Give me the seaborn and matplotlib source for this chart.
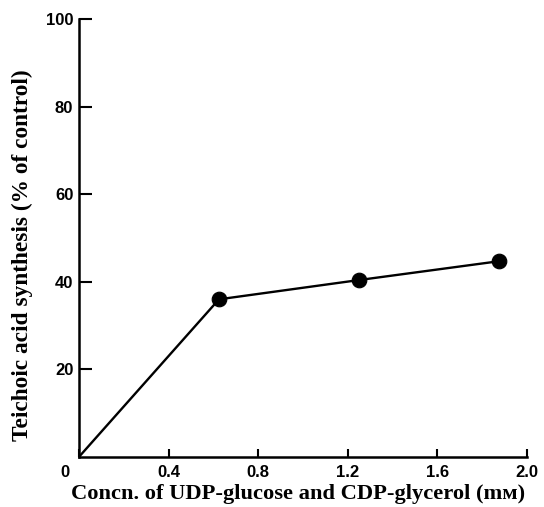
import matplotlib
matplotlib.use("Agg")
import matplotlib.pyplot as plt
import matplotlib.transforms as mtransforms
import seaborn as sns
import pandas as pd

# Nucleotide concentration (mM) vs teichoic acid synthesis (% of control)
conc = [0.0, 0.625, 1.25, 1.875]
synthesis = [0.0, 36.0, 40.4, 44.7]
x_ticks = [0, 0.4, 0.8, 1.2, 1.6, 2.0]
x_tick_labels = ["0", "0.4", "0.8", "1.2", "1.6", "2.0"]
y_ticks = [20, 40, 60, 80, 100]
y_tick_labels = ["20", "40", "60", "80", "100"]

df = pd.DataFrame({"conc": conc, "synthesis": synthesis})

sns.set_style("ticks", {"axes.edgecolor": "black", "text.color": "black",
                        "xtick.color": "black", "ytick.color": "black",
                        "axes.labelcolor": "black"})
plt.rcParams["font.family"] = ["Liberation Sans", "DejaVu Sans"]

fig = plt.figure(figsize=(5.44, 5.07), dpi=100)
ax = fig.add_axes([0.145, 0.0986, 0.824, 0.864])

sns.lineplot(data=df, x="conc", y="synthesis", ax=ax, color="black",
             linewidth=1.7, estimator=None, sort=False)
sns.scatterplot(data=df.iloc[1:], x="conc", y="synthesis", ax=ax,
                color="black", s=110, edgecolor="black", zorder=3)

ax.set_xlim(0, 2.0)
ax.set_ylim(0, 100)
ax.set_xticks(x_ticks)
ax.set_xticklabels(x_tick_labels, fontsize=12, fontweight="bold")
ax.set_yticks(y_ticks)
ax.set_yticklabels(y_tick_labels, fontsize=12, fontweight="bold")
ax.tick_params(axis="x", direction="in", length=6, width=1.5, pad=6, colors="black")
ax.tick_params(axis="y", direction="in", length=9, width=1.5, pad=4, colors="black")

# the shared origin label sits just left of the corner
zero_label = ax.get_xticklabels()[0]
zero_label.set_transform(zero_label.get_transform() +
                         mtransforms.ScaledTranslation(-14 / 100, 0, fig.dpi_scale_trans))

for side in ("top", "right"):
    ax.spines[side].set_visible(False)
for side in ("left", "bottom"):
    ax.spines[side].set_linewidth(1.8)
    ax.spines[side].set_color("black")

ax.set_xlabel("Concn. of UDP-glucose and CDP-glycerol (mᴍ)", fontsize=16.2,
              family=["Liberation Serif", "DejaVu Serif"], fontweight="bold",
              color="black")
ax.set_ylabel("Teichoic acid synthesis (% of control)", fontsize=16.8,
              family=["Liberation Serif", "DejaVu Serif"], fontweight="bold",
              color="black")
ax.xaxis.set_label_coords(0.49, -0.062)
ax.yaxis.set_label_coords(-0.103, 0.46)

fig.savefig("out.png", dpi=100)
